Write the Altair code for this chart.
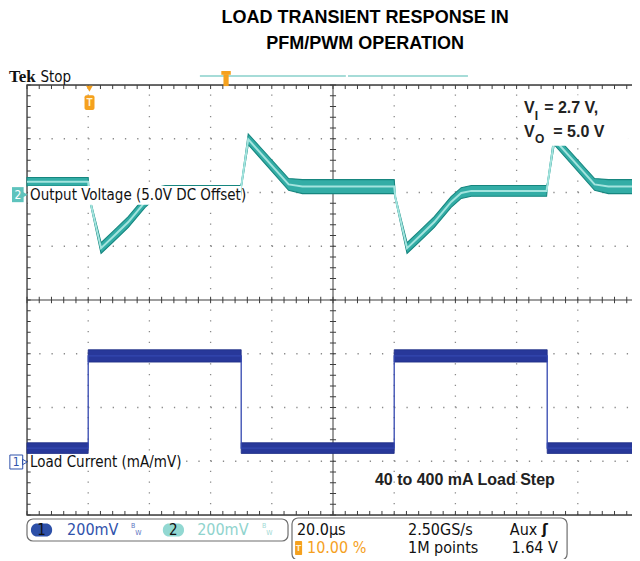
import altair as alt
import pandas as pd

# ---------------- scope settings (20 us/div, trigger at 10 %, 200 mV/div) ----------------
T_MIN, T_MAX = -20, 180
DIV_MAX = 8
MV_PER_DIV = 200
CH1_REF_DIV = 1.0
CH2_REF_DIV = 6.0

# ---------------- channel 2 : output voltage (5.0 V DC offset), mV ----------------
v_time = [-20, 0, 0.4, 4.2, 8.2, 13.1, 18.6, 21.9, 25.2, 49.8, 50.1, 52.3, 65.5, 70,
          100, 100.4, 104.2, 108.2, 113.1, 118.6, 121.9, 125.2, 149.8, 150.1, 152.3, 165.5, 170, 180]
v_mid = [40, 40, -20, -207, -164, -110, -35, -2, 6, 6, 30, 198, 30, 22,
         22, -20, -207, -164, -110, -35, -2, 6, 6, 30, 198, 30, 22, 22]
v_half = [16, 16, 6, 20, 20, 20, 20, 20, 20, 20, 6, 20, 22, 26,
          26, 6, 20, 20, 20, 20, 20, 20, 20, 6, 20, 22, 26, 26]

# ---------------- channel 1 : load current (mA/mV), mV, flat segments ----------------
i_start = [-20, 0, 50, 100, 150]
i_end = [0, 50, 100, 150, 180]
i_level = [49, 392, 49, 392, 49]
i_half = [20, 23, 20, 23, 20]

# ---------------- text ----------------
title_lines = ["LOAD TRANSIENT RESPONSE IN", "PFM/PWM OPERATION"]
ch2_label = "Output Voltage (5.0V DC Offset)"
ch1_label = "Load Current (mA/mV)"
step_label = "40 to 400 mA Load Step"
ch_scale = ["200mV", "200mV"]
timebase = "20.0µs"
sample_rate = "2.50GS/s"
trig_pos = "10.00 %"
rec_len = "1M points"
trig_level = "1.64 V"

SCOPE_FONT = "DejaVu Sans Condensed, Liberation Sans Narrow, DejaVu Sans"
BOLD_FONT = "Liberation Sans, Arial, Helvetica"

TEAL = "#33ada6"
TEAL_DARK = "#16867f"
TEAL_LIGHT = "#a3e4de"
NAVY = "#28389a"
BLUE = "#2f52ab"
ORANGE = "#f5a11e"

XS = alt.Scale(domain=[T_MIN, T_MAX], nice=False, zero=False)
YS = alt.Scale(domain=[0, DIV_MAX], nice=False, zero=False)


def X(f):
    return alt.X(f"{f}:Q", scale=XS, axis=None)


def Y(f):
    return alt.Y(f"{f}:Q", scale=YS, axis=None)


def seg_layer(rows, **mk):
    df = pd.DataFrame(rows, columns=["x", "x2", "y", "y2"])
    return alt.Chart(df).mark_rule(**mk).encode(x=X("x"), x2="x2", y=Y("y"), y2="y2")


def rect_layer(rows, **mk):
    df = pd.DataFrame(rows, columns=["x", "x2", "y", "y2"])
    return alt.Chart(df).mark_rect(**mk).encode(x=X("x"), x2="x2", y=Y("y"), y2="y2")


def text_layer(rows, **mk):
    df = pd.DataFrame(rows, columns=["x", "y", "label"])
    mk.setdefault("baseline", "middle")
    mk.setdefault("align", "left")
    return alt.Chart(df).mark_text(**mk).encode(x=X("x"), y=Y("y"), text="label:N")


def point_layer(rows, **mk):
    df = pd.DataFrame(rows, columns=["x", "y"])
    return alt.Chart(df).mark_point(**mk).encode(x=X("x"), y=Y("y"))


# ---------------- traces ----------------
dv = pd.DataFrame({"t": v_time, "mv": v_mid, "h": v_half})
dv["y"] = CH2_REF_DIV + dv["mv"] / MV_PER_DIV
dv["lo"] = CH2_REF_DIV + (dv["mv"] - dv["h"]) / MV_PER_DIV
dv["hi"] = CH2_REF_DIV + (dv["mv"] + dv["h"]) / MV_PER_DIV

rows = []
for s, (a, b, lv, hh) in enumerate(zip(i_start, i_end, i_level, i_half)):
    for t in (a, b):
        rows.append({"seg": s, "t": t, "mv": lv, "h": hh})
di = pd.DataFrame(rows)
di["y"] = CH1_REF_DIV + di["mv"] / MV_PER_DIV
di["lo"] = CH1_REF_DIV + (di["mv"] - di["h"]) / MV_PER_DIV
di["hi"] = CH1_REF_DIV + (di["mv"] + di["h"]) / MV_PER_DIV
di["idx"] = range(len(di))

v_band = alt.Chart(dv).mark_area(color=TEAL, stroke=TEAL_DARK, strokeWidth=1.1).encode(
    x=X("t"), y=Y("lo"), y2="hi")
v_edge = alt.Chart(dv).mark_line(color="#2aa8a0", strokeWidth=1.3).encode(x=X("t"), y=Y("y"))
v_line = alt.Chart(dv).mark_line(color=TEAL_LIGHT, strokeWidth=2).encode(x=X("t"), y=Y("y"))

i_band = alt.Chart(di).mark_area(color=NAVY, stroke="#1e2d85", strokeWidth=0.8).encode(
    x=X("t"), y=Y("lo"), y2="hi", detail="seg:N")
i_line = alt.Chart(di).mark_line(color="#3347b0", strokeWidth=1.3).encode(
    x=X("t"), y=Y("y"), order="idx:Q")

# ---------------- graticule ----------------
h_grid = seg_layer([(T_MIN, T_MAX, d, d) for d in [1, 2, 3, 5, 6, 7]],
                   color="#8a8a8a", strokeWidth=1.3, strokeDash=[1.3, 10.94])
v_grid = seg_layer([(t, t, 0, DIV_MAX) for t in [0, 20, 40, 60, 100, 120, 140, 160]],
                   color="#8a8a8a", strokeWidth=1.3, strokeDash=[1.3, 9.45])
center = seg_layer([(T_MIN, T_MAX, 4, 4), (80, 80, 0, DIV_MAX)], color="#3c3c3c", strokeWidth=1)
frame = rect_layer([(T_MIN, T_MAX, 0, DIV_MAX)], fill=None, fillOpacity=0, stroke="#3c3c3c", strokeWidth=1.3)

tick_rows = []
for k in range(51):
    t = T_MIN + 4 * k
    tick_rows += [(t, t, 8, 8 - 0.075), (t, t, 0, 0.075), (t, t, 4 - 0.06, 4 + 0.06)]
for m in range(41):
    d = 0.2 * m
    tick_rows += [(T_MIN, T_MIN + 1.2, d, d), (T_MAX, T_MAX - 1.2, d, d), (79.0, 81.0, d, d)]
ticks = seg_layer(tick_rows, color="#3c3c3c", strokeWidth=1)

# ---------------- label boxes & labels ----------------
boxes = rect_layer([(-19.7, 50.0, 6.12, 5.77), (-19.7, 29.5, 1.135, 0.84),
                    (141.1, 176.4, 7.81, 6.87)], color="white")

lbl_scope = text_layer([(-19.0, 5.95, ch2_label), (-19.0, 0.986, ch1_label)],
                       font=SCOPE_FONT, fontSize=15, color="#111111")
lbl_bold = text_layer([(142.4, 7.563, "V"), (149.0, 7.563, "= 2.7 V,"),
                       (142.4, 7.126, "V"), (152.0, 7.126, "= 5.0 V"),
                       (93.7, 0.651, step_label)],
                      font=BOLD_FONT, fontWeight="bold", fontSize=16, color="#222222")
lbl_sub = text_layer([(145.9, 7.42, "I"), (146.0, 6.99, "O")],
                     font=BOLD_FONT, fontWeight="bold", fontSize=12, color="#222222")
title = text_layer([(90.5, 9.247, title_lines[0]), (90.5, 8.763, title_lines[1])],
                   font=BOLD_FONT, fontWeight="bold", fontSize=18, color="#000000", align="center")

# ---------------- header ----------------
tek = text_layer([(-25.9, 8.15, "Tek")], font="Liberation Serif, DejaVu Serif", fontWeight="bold",
                 fontSize=17, color="#111111")
stop = text_layer([(-15.6, 8.15, "Stop")], font=SCOPE_FONT, fontSize=15, color="#111111")
trig_bar = seg_layer([(36.5, 84.2, 8.167, 8.167), (84.9, 124.1, 8.167, 8.167)],
                     color="#a6dcd8", strokeWidth=2)
trig_bar_mark = rect_layer([(44.2, 45.9, 8.20, 7.98), (43.5, 46.6, 8.26, 8.19)], color=ORANGE)

# trigger marker (T)
trig_tri = point_layer([(0.4, 7.93)], shape="triangle-down", filled=True, color=ORANGE, size=45, opacity=1)
trig_box = rect_layer([(-1.2, 2.06, 7.81, 7.535)], color=ORANGE, cornerRadius=2)
trig_t = text_layer([(0.43, 7.665, "T")], font=BOLD_FONT, fontWeight="bold", fontSize=10,
                    color="#fff3d6", align="center")

# channel reference markers
ch2_box = rect_layer([(-24.9, -21.1, 6.10, 5.82)], color="#5ec3bd")
ch2_tri = point_layer([(-20.6, 5.96)], shape="triangle-right", filled=True, color="#5ec3bd", size=35, opacity=1)
ch2_num = text_layer([(-23.0, 5.96, "2")], font=SCOPE_FONT, fontSize=12, color="white", align="center")
ch1_box = rect_layer([(-25.6, -21.4, 1.116, 0.856)], fill="white", stroke=BLUE, strokeWidth=1)
ch1_tri = point_layer([(-20.7, 0.986)], shape="triangle-right", filled=False, color=BLUE, size=30,
                      strokeWidth=1, opacity=1)
ch1_num = text_layer([(-23.5, 0.986, "1")], font=SCOPE_FONT, fontSize=12, color=BLUE, align="center")

# ---------------- status bar ----------------
status_boxes = rect_layer([(-20.0, 65.3, -0.074, -0.484), (66.6, 156.5, -0.056, -0.837)],
                          fill="white", stroke="#6e6e6e", strokeWidth=1.2, cornerRadius=6)
ch_pills = alt.layer(
    rect_layer([(-18.7, -11.8, -0.160, -0.398)], color="#2d50a8", cornerRadius=6),
    rect_layer([(24.4, 31.3, -0.160, -0.398)], color="#92d8d2", cornerRadius=6),
)
pill_nums = text_layer([(-15.25, -0.279, "1"), (27.85, -0.279, "2")], font=SCOPE_FONT, fontSize=15,
                       color="#111111", align="center")
ch1_scale = text_layer([(-6.9, -0.279, ch_scale[0])], font=SCOPE_FONT, fontSize=16, color=BLUE)
ch2_scale = text_layer([(35.6, -0.279, ch_scale[1])], font=SCOPE_FONT, fontSize=16, color="#8fd3cd")
bw1 = text_layer([(14.0, -0.21, "B"), (15.4, -0.33, "W")], font=SCOPE_FONT, fontSize=7, color="#5a74c0")
bw2 = text_layer([(56.8, -0.21, "B"), (58.2, -0.33, "W")], font=SCOPE_FONT, fontSize=7, color="#9fd9d4")
stat_row1 = text_layer([(68.2, -0.279, timebase), (104.5, -0.279, sample_rate), (137.8, -0.279, "Aux")],
                       font=SCOPE_FONT, fontSize=16, color="#111111")
aux_edge = text_layer([(148.3, -0.279, "ʃ")], font="DejaVu Sans", fontWeight="bold", fontSize=14, color="#111111")
stat_row2 = text_layer([(104.5, -0.614, rec_len)], font=SCOPE_FONT, fontSize=16, color="#111111")
stat_lvl = text_layer([(153.5, -0.614, trig_level)], font=SCOPE_FONT, fontSize=16, color="#111111", align="right")
stat_trig = text_layer([(71.5, -0.614, trig_pos)], font=SCOPE_FONT, fontSize=16, color=ORANGE)
stat_tbox = rect_layer([(67.6, 69.9, -0.484, -0.744)], color=ORANGE, cornerRadius=1)
stat_tt = text_layer([(68.75, -0.614, "T")], font=BOLD_FONT, fontWeight="bold", fontSize=9,
                     color="#fff3d6", align="center")

chart = alt.layer(
    h_grid, v_grid, center, ticks, frame,
    i_band, i_line,
    v_band, v_edge, v_line,
    boxes, lbl_scope, lbl_bold, lbl_sub, title,
    tek, stop, trig_bar, trig_bar_mark,
    trig_tri, trig_box, trig_t,
    ch2_box, ch2_tri, ch2_num, ch1_box, ch1_tri, ch1_num,
    status_boxes, ch_pills, pill_nums, ch1_scale, ch2_scale, bw1, bw2,
    stat_row1, aux_edge, stat_row2, stat_lvl, stat_trig, stat_tbox, stat_tt,
).properties(
    width=612, height=430,
    padding={"left": 19, "top": 77, "right": -7, "bottom": 44},
    autosize=alt.AutoSizeParams(type="none"),
).configure_view(strokeWidth=0).configure(background="white")

chart.save("out.html", embed_options={"renderer": "svg", "actions": False})
